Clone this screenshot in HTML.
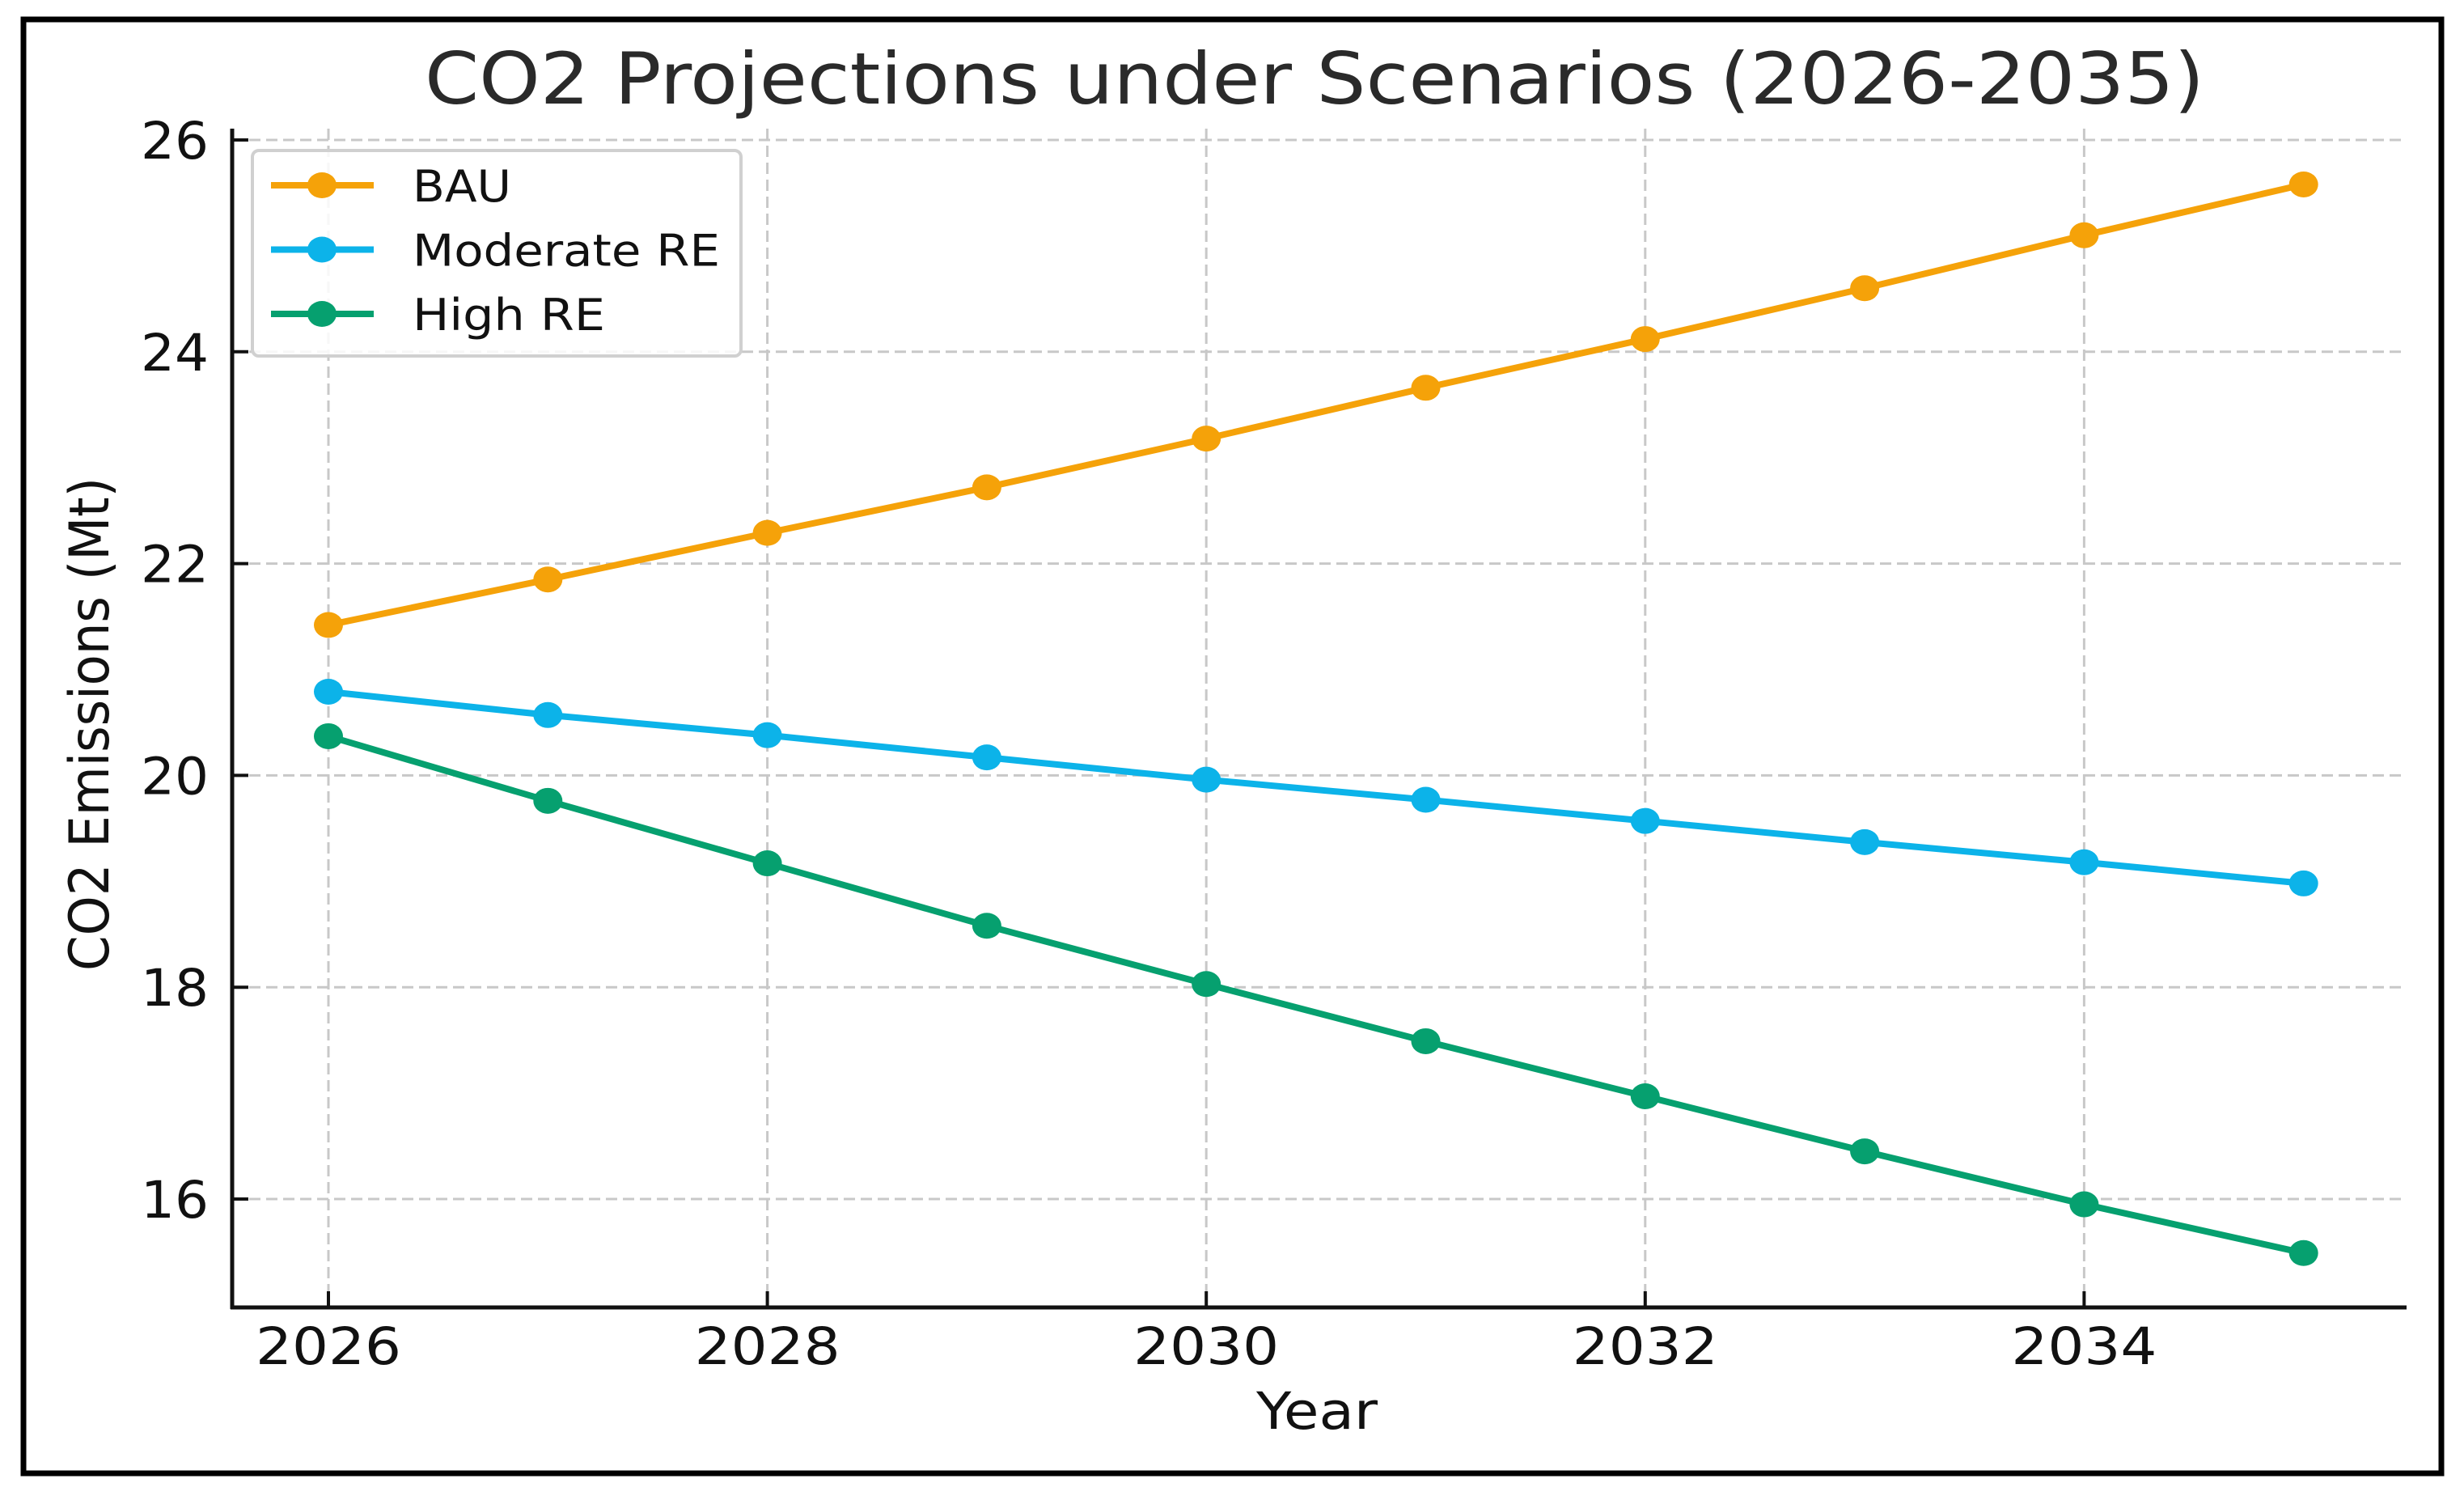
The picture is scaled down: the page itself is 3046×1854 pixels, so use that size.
<!DOCTYPE html>
<html><head><meta charset="utf-8">
<style>
html,body{margin:0;padding:0;background:#fff;}
svg{display:block;}
text{font-family:"DejaVu Sans","Liberation Sans",sans-serif;}
</style></head>
<body>
<svg id="chart" xmlns="http://www.w3.org/2000/svg" width="3046" height="1854" viewBox="0 0 3046 1854">
<rect x="0" y="0" width="3046" height="1854" fill="#fff"/>
<rect x="29" y="24" width="2989" height="1797" fill="none" stroke="#000" stroke-width="7"/>
<g id="grid"></g>
<g id="axes"></g>
<g id="series"></g>
<text x="1625" y="128" font-size="88" fill="#2a2a2a" text-anchor="middle" textLength="2200" lengthAdjust="spacingAndGlyphs">CO2 Projections under Scenarios (2026-2035)</text>
<text x="1628" y="1766" font-size="63" fill="#111" text-anchor="middle" textLength="150" lengthAdjust="spacingAndGlyphs">Year</text>
<text transform="translate(134,895) rotate(-90)" x="0" y="0" font-size="68" fill="#111" text-anchor="middle" textLength="610" lengthAdjust="spacingAndGlyphs">CO2 Emissions (Mt)</text>
<g id="legend">
<rect x="312" y="186" width="604" height="254" rx="8" fill="#fff" fill-opacity="0.85" stroke="#d0d0d0" stroke-width="4"/>
</g>
</svg>
<script>
const years = [2026,2027,2028,2029,2030,2031,2032,2033,2034,2035];
const bau = [21.42,21.85,22.29,22.72,23.18,23.66,24.12,24.6,25.1,25.58];
const moderate = [20.79,20.57,20.38,20.17,19.96,19.77,19.57,19.37,19.18,18.98];
const high = [20.37,19.76,19.17,18.58,18.03,17.49,16.97,16.45,15.95,15.49];
const xTicks = [2026,2028,2030,2032,2034];
const yTicks = [16,18,20,22,24,26];
const seriesNames = ["BAU","Moderate RE","High RE"];

const NS="http://www.w3.org/2000/svg";
const X=y=>406+(y-2026)*271.3;
const Y=v=>173+(26-v)*130.9;
function mk(tag,attrs,parent){const e=document.createElementNS(NS,tag);for(const k in attrs)e.setAttribute(k,attrs[k]);parent.appendChild(e);return e;}
const grid=document.getElementById('grid'),axes=document.getElementById('axes'),ser=document.getElementById('series'),leg=document.getElementById('legend');
const L=287,R=2975,T=159,B=1616;
xTicks.forEach(t=>{
  const g=mk('line',{x1:X(t),x2:X(t),y1:T,y2:B,stroke:'#c8c8c8','stroke-width':3,'stroke-dasharray':'14,7'},grid);
  
  
  const tk=mk('line',{x1:X(t),x2:X(t),y1:B,y2:B-20,stroke:'#111','stroke-width':4},axes);
  
  
  const tx=mk('text',{x:X(t),y:1686,'font-size':63,fill:'#111','text-anchor':'middle',textLength:180,lengthAdjust:'spacingAndGlyphs'},axes);
  tx.textContent=t;
  
  
});
yTicks.forEach(t=>{
  const g=mk('line',{x1:L,x2:R,y1:Y(t),y2:Y(t),stroke:'#c8c8c8','stroke-width':3,'stroke-dasharray':'14,7'},grid);
  
  
  const tk=mk('line',{x1:L,x2:L+20,y1:Y(t),y2:Y(t),stroke:'#111','stroke-width':4},axes);
  
  
  const tx=mk('text',{x:258,y:Y(t)+23,'font-size':63,fill:'#111','text-anchor':'end',textLength:84,lengthAdjust:'spacingAndGlyphs'},axes);
  tx.textContent=t;
  
  
});
const sl=mk('line',{x1:L,x2:L,y1:T,y2:B+2,stroke:'#111','stroke-width':5},axes);


const sb=mk('line',{x1:L-2,x2:R,y1:B,y2:B,stroke:'#111','stroke-width':5},axes);



const colors=['#F5A209','#0CB3E9','#06A06F'];
const data=[bau,moderate,high];
data.forEach((vals,i)=>{
  const pts=vals.map((v,j)=>X(years[j])+','+Y(v)).join(' ');
  const pl=mk('polyline',{points:pts,fill:'none',stroke:colors[i],'stroke-width':8,'stroke-linejoin':'round'},ser);
  
  
  vals.forEach((v,j)=>{
    const c=mk('ellipse',{cx:X(years[j]),cy:Y(v),rx:18,ry:16,fill:colors[i]},ser);
    
    
  });
  const ly=229+i*79.5;
  const ll=mk('line',{x1:335,x2:462,y1:ly,y2:ly,stroke:colors[i],'stroke-width':8},leg);
  
  
  const lm=mk('ellipse',{cx:398,cy:ly,rx:18,ry:16,fill:colors[i]},leg);
  
  
  const lens=[122,380,238];
  const lt=mk('text',{x:510,y:ly+20,'font-size':54,fill:'#111',textLength:lens[i],lengthAdjust:'spacingAndGlyphs'},leg);
  lt.textContent=seriesNames[i];
  
  
});
</script>
</body></html>
